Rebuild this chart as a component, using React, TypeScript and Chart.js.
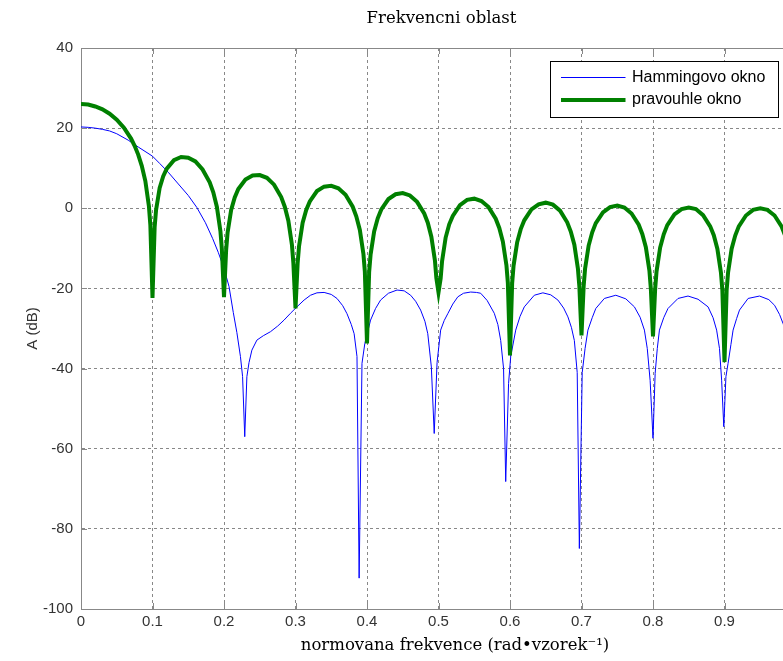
import React, { useEffect, useRef } from "react";
import { Chart, registerables } from "chart.js";

Chart.register(...registerables);

const titleText = "Frekvencni oblast";
const xAxisLabel = "normovana frekvence (rad•vzorek⁻¹)";
const yAxisLabel = "A (dB)";
const hammingLabel = "Hammingovo okno";
const rectLabel = "pravouhle okno";

const xTickValues = [0, 0.1, 0.2, 0.3, 0.4, 0.5, 0.6, 0.7, 0.8, 0.9, 1];
const xTickLabels = ["0", "0.1", "0.2", "0.3", "0.4", "0.5", "0.6", "0.7", "0.8", "0.9", "1"];
const yTickValues = [-100, -80, -60, -40, -20, 0, 20, 40];
const yTickLabels = ["-100", "-80", "-60", "-40", "-20", "0", "20", "40"];

// Rectangular window (green)
const rectX = [
  0, 0.01, 0.02, 0.03, 0.04, 0.05, 0.06, 0.07, 0.075, 0.08, 0.085, 0.09, 0.095, 0.097, 0.1,
  0.103, 0.105, 0.11, 0.115, 0.12, 0.13, 0.14, 0.15, 0.16, 0.17, 0.18, 0.185, 0.19, 0.195, 0.197, 0.2,
  0.203, 0.205, 0.21, 0.215, 0.22, 0.23, 0.24, 0.25, 0.26, 0.27, 0.28, 0.285, 0.29, 0.295, 0.297, 0.3,
  0.303, 0.305, 0.31, 0.315, 0.32, 0.33, 0.34, 0.35, 0.36, 0.37, 0.38, 0.385, 0.39, 0.395, 0.397, 0.4,
  0.403, 0.405, 0.41, 0.415, 0.42, 0.43, 0.44, 0.45, 0.46, 0.47, 0.48, 0.485, 0.49, 0.495, 0.497, 0.5,
  0.503, 0.505, 0.51, 0.515, 0.52, 0.53, 0.54, 0.55, 0.56, 0.57, 0.58, 0.585, 0.59, 0.595, 0.597, 0.6,
  0.603, 0.605, 0.61, 0.615, 0.62, 0.63, 0.64, 0.65, 0.66, 0.67, 0.68, 0.685, 0.69, 0.695, 0.697, 0.7,
  0.703, 0.705, 0.71, 0.715, 0.72, 0.73, 0.74, 0.75, 0.76, 0.77, 0.78, 0.785, 0.79, 0.795, 0.797, 0.8,
  0.803, 0.805, 0.81, 0.815, 0.82, 0.83, 0.84, 0.85, 0.86, 0.87, 0.88, 0.885, 0.89, 0.895, 0.897, 0.9,
  0.903, 0.905, 0.91, 0.915, 0.92, 0.93, 0.94, 0.95, 0.96, 0.97, 0.98, 0.985, 0.99,
];
const rectY = [
  26.0, 25.9, 25.4, 24.7, 23.6, 22.1, 20.1, 17.4, 15.6, 13.4, 10.6, 6.8, 0.5, -4.2, -22.4,
  -4.7, -0.4, 5.1, 8.0, 9.9, 12.0, 12.8, 12.6, 11.7, 9.7, 6.5, 4.0, 0.4, -5.7, -10.2, -22.2,
  -10.4, -6.1, -0.4, 2.7, 4.8, 7.2, 8.2, 8.3, 7.6, 5.9, 2.8, 0.4, -3.1, -9.1, -13.6, -25.0,
  -13.7, -9.4, -3.6, -0.4, 1.7, 4.3, 5.4, 5.6, 5.0, 3.4, 0.4, -2.0, -5.4, -11.4, -15.8, -33.7,
  -15.9, -11.6, -5.8, -2.5, -0.3, 2.3, 3.5, 3.8, 3.2, 1.6, -1.3, -3.6, -7.1, -13.0, -17.4, -21.0,
  -17.5, -13.2, -7.3, -4.0, -1.9, 0.8, 2.1, 2.4, 1.8, 0.3, -2.6, -4.9, -8.3, -14.2, -18.6, -36.7,
  -18.7, -14.3, -8.5, -5.2, -3.0, -0.3, 1.0, 1.4, 0.9, -0.6, -3.5, -5.8, -9.1, -15.1, -19.5, -31.7,
  -19.5, -15.1, -9.3, -6.0, -3.7, -1.0, 0.3, 0.7, 0.2, -1.3, -4.1, -6.4, -9.7, -15.6, -20.1, -32.0,
  -20.1, -15.7, -9.8, -6.5, -4.2, -1.5, -0.2, 0.2, -0.2, -1.7, -4.5, -6.7, -10.1, -16.0, -20.4, -38.4,
  -20.4, -16.0, -10.1, -6.8, -4.5, -1.8, -0.4, 0.0, -0.4, -1.8, -4.6, -6.9, -10.2,
];

// Hamming window (blue)
const hamX = [
  0, 0.01, 0.02, 0.03, 0.04, 0.05, 0.066, 0.08, 0.1, 0.11, 0.122, 0.135, 0.15, 0.162, 0.174, 0.184, 0.192, 0.2,
  0.207, 0.213, 0.218, 0.223, 0.226, 0.229, 0.232, 0.235, 0.239, 0.246, 0.255, 0.265, 0.275, 0.284, 0.293, 0.302,
  0.312, 0.321, 0.33, 0.34, 0.35, 0.358, 0.366, 0.372, 0.378, 0.382, 0.386, 0.389, 0.393, 0.397, 0.405, 0.412,
  0.419, 0.43, 0.442, 0.452, 0.461, 0.468, 0.475, 0.481, 0.485, 0.49, 0.494, 0.498, 0.503, 0.508, 0.513, 0.52,
  0.527, 0.535, 0.545, 0.553, 0.559, 0.568, 0.578, 0.583, 0.587, 0.591, 0.594, 0.598, 0.601, 0.608, 0.614, 0.62,
  0.634, 0.646, 0.657, 0.667, 0.675, 0.681, 0.686, 0.69, 0.694, 0.697, 0.701, 0.705, 0.709, 0.715, 0.72, 0.732,
  0.748, 0.762, 0.774, 0.782, 0.788, 0.792, 0.796, 0.8, 0.803, 0.806, 0.809, 0.815, 0.821, 0.835, 0.849, 0.863,
  0.877, 0.884, 0.889, 0.893, 0.896, 0.899, 0.902, 0.905, 0.909, 0.912, 0.917, 0.921, 0.933, 0.949, 0.962, 0.97,
  0.977, 0.982, 0.99,
];
const hamY = [
  20.3, 20.2, 20.0, 19.7, 19.3, 18.6, 17.0, 15.3, 13.0, 11.2, 9.0, 6.3, 3.2, 0.2, -3.6, -7.5, -11.0, -15.0,
  -19.5, -26.0, -31.0, -37.0, -42.0, -57.0, -42.0, -38.5, -35.4, -32.9, -31.8, -30.8, -29.4, -27.9, -26.2, -24.6,
  -22.9, -21.7, -21.1, -21.0, -21.5, -22.5, -24.3, -26.3, -29.0, -31.3, -37.0, -92.3, -38.7, -33.7, -27.9, -25.0,
  -22.9, -21.2, -20.4, -20.6, -21.7, -23.2, -25.4, -28.2, -31.3, -39.6, -56.2, -38.5, -30.4, -28.0, -26.3, -23.9,
  -22.1, -21.2, -20.9, -21.0, -21.2, -23.0, -26.2, -29.0, -33.0, -40.0, -68.2, -43.7, -37.0, -30.4, -27.0, -24.6,
  -21.7, -21.1, -21.6, -22.9, -24.9, -27.1, -29.8, -33.0, -41.0, -84.9, -41.0, -35.0, -30.4, -27.3, -25.0, -22.5,
  -21.7, -22.6, -24.6, -27.2, -30.4, -35.0, -43.0, -57.4, -41.2, -35.0, -30.4, -27.3, -25.0, -22.5, -21.9, -22.7,
  -24.6, -27.3, -30.4, -35.0, -42.9, -54.5, -42.0, -38.7, -34.0, -30.4, -27.5, -25.4, -22.5, -21.9, -22.8, -24.2,
  -26.5, -28.8, -33.0,
];

const HAM_COLOR = "#0000ff";
const RECT_COLOR = "#008000";
const AXIS_COLOR = "#888888";
const TEXT_COLOR = "#333333";

const toPoints = (xs: number[], ys: number[]) => xs.map((x, i) => ({ x, y: ys[i] }));

const matlabPlugin = {
  id: "matlabDecor",
  beforeDatasetsDraw(chart: any) {
    const { ctx, chartArea } = chart;
    const { left, right, top, bottom } = chartArea;
    const xs = chart.scales.x;
    const ys = chart.scales.y;
    ctx.save();
    ctx.strokeStyle = AXIS_COLOR;
    ctx.lineWidth = 1;
    ctx.setLineDash([]);
    ctx.strokeRect(Math.round(left) + 0.5, Math.round(top) + 0.5, Math.round(right - left), Math.round(bottom - top));
    const tl = 6;
    ctx.beginPath();
    xTickValues.forEach((v) => {
      const px = Math.round(xs.getPixelForValue(v)) + 0.5;
      ctx.moveTo(px, bottom);
      ctx.lineTo(px, bottom - tl);
      ctx.moveTo(px, top);
      ctx.lineTo(px, top + tl);
    });
    yTickValues.forEach((v) => {
      const py = Math.round(ys.getPixelForValue(v)) + 0.5;
      ctx.moveTo(left, py);
      ctx.lineTo(left + tl, py);
      ctx.moveTo(right, py);
      ctx.lineTo(right - tl, py);
    });
    ctx.stroke();
    ctx.restore();
  },
  afterDraw(chart: any) {
    const { ctx, chartArea } = chart;
    const { left, right, top, bottom } = chartArea;
    ctx.save();
    // x-axis label
    ctx.fillStyle = "#000";
    ctx.font = "16.5px 'DejaVu Serif'";
    ctx.textAlign = "center";
    ctx.textBaseline = "alphabetic";
    ctx.fillText(xAxisLabel, left + 374, bottom + 41);

    // legend
    const bx = right - 245.5;
    const by = top + 13.5;
    const bw = 228;
    const bh = 56;
    ctx.fillStyle = "#fff";
    ctx.fillRect(bx, by, bw, bh);
    ctx.strokeStyle = "#000";
    ctx.lineWidth = 1;
    ctx.strokeRect(bx, by, bw, bh);
    const items = [
      { label: hammingLabel, color: HAM_COLOR, width: 1, y: by + 16 },
      { label: rectLabel, color: RECT_COLOR, width: 4, y: by + 38.5 },
    ];
    items.forEach((it) => {
      ctx.strokeStyle = it.color;
      ctx.lineWidth = it.width;
      ctx.beginPath();
      ctx.moveTo(bx + 10.5, it.y);
      ctx.lineTo(bx + 75, it.y);
      ctx.stroke();
      ctx.fillStyle = "#000";
      ctx.font = "16px 'Liberation Sans'";
      ctx.textAlign = "left";
      ctx.textBaseline = "middle";
      ctx.fillText(it.label, bx + 81.5, it.y);
    });
    ctx.restore();
  },
};

export default function App() {
  const canvasRef = useRef<HTMLCanvasElement | null>(null);

  useEffect(() => {
    const canvas = canvasRef.current;
    if (!canvas) return;
    const chart = new Chart(canvas, {
      type: "line",
      data: {
        datasets: [
          {
            label: rectLabel,
            data: toPoints(rectX, rectY),
            borderColor: RECT_COLOR,
            backgroundColor: RECT_COLOR,
            borderWidth: 4,
            pointRadius: 0,
            fill: false,
            tension: 0,
          },
          {
            label: hammingLabel,
            data: toPoints(hamX, hamY),
            borderColor: HAM_COLOR,
            backgroundColor: HAM_COLOR,
            borderWidth: 1,
            pointRadius: 0,
            fill: false,
            tension: 0,
          },
        ],
      },
      options: {
        responsive: false,
        animation: false,
        devicePixelRatio: 1,
        layout: { padding: 0 },
        plugins: {
          legend: { display: false },
          tooltip: { enabled: false },
          title: {
            display: true,
            text: titleText,
            color: "#000",
            font: { family: "'DejaVu Serif'", size: 16.5, weight: "normal", lineHeight: "20px" },
            padding: { top: 9, bottom: 19 },
          },
        },
        scales: {
          x: {
            type: "linear",
            min: 0,
            max: 1,
            afterBuildTicks: (s: any) => {
              s.ticks = xTickValues.map((v) => ({ value: v }));
            },
            afterFit: (s: any) => {
              s.height = 52;
            },
            ticks: {
              autoSkip: false,
              maxRotation: 0,
              padding: 4,
              color: TEXT_COLOR,
              font: { family: "'Liberation Sans'", size: 15 },
              callback: (_v: any, i: number) => xTickLabels[i],
            },
            grid: { color: AXIS_COLOR, lineWidth: 1, drawTicks: false },
            border: { display: true, color: AXIS_COLOR, dash: [3, 3] },
          },
          y: {
            type: "linear",
            position: "left",
            min: -100,
            max: 40,
            afterBuildTicks: (s: any) => {
              s.ticks = yTickValues.map((v) => ({ value: v }));
            },
            afterFit: (s: any) => {
              s.width = 81;
            },
            ticks: {
              padding: 8,
              color: TEXT_COLOR,
              font: { family: "'Liberation Sans'", size: 15 },
              callback: (_v: any, i: number) => yTickLabels[i],
            },
            grid: { color: AXIS_COLOR, lineWidth: 1, drawTicks: false },
            border: { display: true, color: AXIS_COLOR, dash: [3, 3] },
            title: {
              display: true,
              text: yAxisLabel,
              color: TEXT_COLOR,
              font: { family: "'Liberation Sans'", size: 15 },
              padding: { top: 24, bottom: 0 },
            },
          },
          y2: {
            type: "linear",
            position: "right",
            min: -100,
            max: 40,
            display: true,
            grid: { display: false, drawTicks: false },
            ticks: { display: false },
            border: { display: false },
            afterFit: (s: any) => {
              s.width = 87;
            },
          },
        },
      },
      plugins: [matlabPlugin],
    } as any);
    return () => chart.destroy();
  }, []);

  return (
    <div
      style={{
        position: "fixed",
        left: 0,
        top: 0,
        width: 783,
        height: 661,
        overflow: "hidden",
        background: "#fff",
      }}
    >
      <canvas ref={canvasRef} width={883} height={661} style={{ display: "block", width: 883, height: 661 }} />
    </div>
  );
}
